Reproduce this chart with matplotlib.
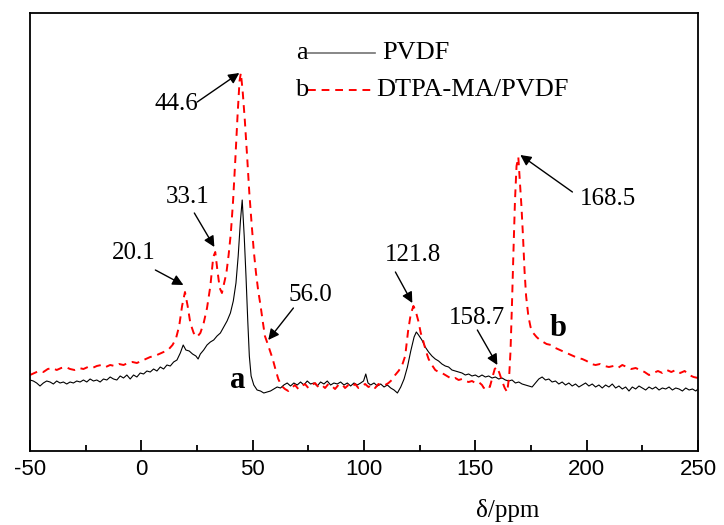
import matplotlib
matplotlib.use('Agg')
import matplotlib.pyplot as plt
from matplotlib.lines import Line2D

plt.rcParams['axes.unicode_minus'] = False

# PVDF (curve a)
a_ppm = [-50, -48.5, -47, -45.5, -44, -42.5, -41, -39.5, -38, -36.5, -35, -33.5, -32, -30.5,
         -29, -27.5, -26, -24.5, -23, -21.5, -20, -18.5, -17, -15.5, -14, -12.5, -11, -9.5,
         -8, -6.5, -5, -3.5, -2, -0.5, 1, 2.5, 4, 5.5, 7, 8.5, 10, 11.5, 13, 14.5, 16, 17.5,
         18.8, 20, 21.5, 23, 24.5, 25.5, 26.5, 28, 29.5, 31, 32.5, 34, 35.5, 37, 38.5, 40,
         41.3, 42.5, 43.5, 44.5, 45.3, 46.2, 47.0, 47.8, 48.5, 49.3, 50.5, 52, 53.5, 55, 56.5,
         58, 59.5, 61, 62.5, 64, 65.5, 67, 68.5, 70, 71.5, 73, 74.5, 76, 77.5, 79, 80.5, 82,
         83.5, 85, 86.5, 88, 89.5, 91, 92.5, 94, 95.5, 97, 98.5, 99.8, 100.8, 101.8, 103,
         104.5, 106, 107.5, 109, 110.5, 112, 113.5, 115, 116.5, 118, 119.5, 121, 122.5, 123.5,
         124.5, 126, 127.5, 129, 130.5, 132, 133.5, 135, 136.5, 138, 139.5, 141, 142.5, 144,
         145.5, 147, 148.5, 150, 151.5, 153, 154.5, 156, 157.5, 159, 160.5, 162, 163.5, 165,
         166.5, 168, 169.5, 171, 172.5, 174, 175.5, 177, 178.5, 180, 181.5, 183, 184.5, 186,
         187.5, 189, 190.5, 192, 193.5, 195, 196.5, 198, 199.5, 201, 202.5, 204, 205.5, 207,
         208.5, 210, 211.5, 213, 214.5, 216, 217.5, 219, 220.5, 222, 223.5, 225, 226.5, 228,
         229.5, 231, 232.5, 234, 235.5, 237, 238.5, 240, 241.5, 243, 244.5, 246, 247.5, 249, 250]
a_int = [71, 70, 68, 65, 68, 70, 69, 67, 70, 68, 69, 67, 69, 68,
         70, 69, 71, 69, 72, 70, 71, 69, 72, 71, 74, 72, 71, 75,
         73, 76, 72, 76, 74, 78, 77, 80, 79, 82, 80, 84, 82, 86, 85, 89, 91, 98,
         106, 101, 100, 97, 95, 92, 97, 101, 106, 109, 111, 115, 118, 124, 130, 138,
         150, 168, 195, 230, 251, 215, 175, 130, 95, 75, 66, 61, 60, 58, 59,
         60, 62, 64, 63, 66, 68, 65, 68, 66, 69, 66, 70, 67, 68, 65, 69, 67,
         70, 66, 68, 67, 69, 66, 68, 65, 68, 66, 68, 70, 77, 68, 66,
         68, 65, 67, 64, 66, 63, 61, 58, 64, 72, 84, 100, 114, 119,
         116, 111, 104, 99, 95, 92, 90, 87, 85, 84, 81, 80, 79, 78,
         76, 77, 75, 76, 74, 76, 74, 75, 73, 74, 72, 73, 71, 70,
         71, 68, 69, 67, 66, 65, 64, 68, 72, 74, 71, 72, 69, 70,
         67, 69, 66, 68, 65, 67, 64, 66, 68, 65, 67, 64, 66, 63,
         66, 64, 67, 63, 65, 62, 64, 60, 64, 62, 65, 63, 61, 64,
         62, 64, 61, 63, 62, 64, 61, 63, 62, 60, 63, 61, 62, 60, 62]

# DTPA-MA/PVDF (curve b)
b_ppm = [-50, -48, -46, -44, -42, -40, -38, -36, -34, -32, -30, -28, -26, -24, -22, -20, -18,
         -16, -14, -12, -10, -8, -6, -4, -2, 0, 2, 4, 6, 8, 10, 12, 14, 15.5, 17, 18.3, 19.6,
         20.8, 22, 23.5, 25, 26.5, 28, 29.5, 31, 32.3, 33.2, 34.2, 35.2, 36.2, 37.2, 38.2,
         39.2, 40.2, 41.2, 42.2, 43.2, 44.1, 44.7, 45.5, 46.5, 47.5, 48.5, 49.5, 50.5, 51.5,
         52.5, 53.5, 54.5, 55.5, 56.6, 57.8, 59, 60.2, 61.5, 63, 64.5, 66, 67.5, 69, 70.5, 72,
         73.5, 75, 76.5, 78, 79.5, 81, 82.5, 84, 85.5, 87, 88.5, 90, 91.5, 93, 94.5, 96, 97.5,
         99, 100.5, 102, 103.5, 105, 106.5, 108, 109.5, 111, 112.5, 114, 115.5, 117, 118.5,
         119.8, 121, 122.2, 123.2, 124.4, 125.5, 126.6, 127.8, 129, 130.5, 132, 133.5, 135,
         136.5, 138, 139.5, 141, 142.5, 144, 145.5, 147, 148.5, 150, 151.5, 153, 153.8, 155,
         156.5, 157.5, 158.7, 159.7, 160.8, 162, 163.2, 164.3, 165.2, 165.8, 166.5, 167.1,
         167.8, 168.5, 169.3, 170.0, 170.7, 171.4, 172.1, 172.8, 173.8, 174.8, 176, 177.5, 179,
         180.5, 182, 184, 186, 188, 190, 192, 194, 196, 198, 200, 202, 204, 206, 208, 210, 212,
         214, 216, 218, 220, 222, 224, 226, 228, 230, 232, 234, 236, 238, 240, 242, 244, 246,
         248, 250]
b_int = [76, 78, 80, 79, 82, 83, 81, 83, 84, 82, 81, 83, 82, 84, 83, 85, 86,
         84, 86, 85, 87, 86, 88, 89, 88, 90, 92, 94, 95, 97, 99, 101, 106, 112, 125, 145, 159,
         145, 128, 118, 114, 118, 128, 143, 165, 194, 199, 180, 163, 158, 168, 178,
         196, 218, 250, 291, 335, 370, 378, 360, 330, 295, 258, 228, 200, 178,
         160, 146, 130, 115, 108, 100, 92, 82, 72, 65, 62, 60, 63, 66, 62, 65,
         67, 63, 66, 68, 64, 66, 63, 67, 65, 62, 66, 67, 63, 66, 64, 67, 63,
         65, 67, 64, 66, 63, 67, 65, 66, 68, 71, 76, 80, 85, 95,
         120, 137, 145, 140, 130, 118, 110, 100, 92, 86, 81, 79, 78,
         76, 74, 72, 73, 71, 72, 70, 69, 70, 68, 69, 66, 63, 66,
         64, 72, 82, 84, 78, 70, 63, 59, 75, 100, 150, 198,
         250, 285, 294, 270, 245, 215, 180, 155, 135, 124, 118, 114, 111,
         109, 107, 106, 103, 101, 99, 97, 95, 93, 92, 90, 87, 86, 87, 85, 84, 85,
         83, 86, 84, 82, 83, 81, 79, 76, 78, 80, 78, 81, 79, 81, 78, 80, 76,
         74, 73]

# peak labels: text, peak position, text position, arrow start
peak_labels = ['44.6', '33.1', '20.1', '56.0', '121.8', '158.7', '168.5']
peak_xy = [(44.0, 378), (32.8, 204), (18.9, 166), (57.0, 111), (121.7, 148), (159.9, 86), (170.2, 296)]
text_xy = [(15.7, 347), (20.7, 254), (-3.6, 198), (75.9, 156), (122.2, 196), (150.9, 133), (209.7, 252)]
tail_xy = [(25.1, 349), (23.8, 238), (6.3, 181), (68.3, 143), (114.1, 179), (150.9, 121), (193.6, 259)]

serif = 'Liberation Serif'

fig = plt.figure(figsize=(7.24, 5.25), dpi=100)
ax = fig.add_axes([30 / 724, 1 - 451 / 525, 668 / 724, 438 / 525])

ax.plot(a_ppm, a_int, color='black', lw=0.8)
ax.plot(b_ppm, b_int, color='red', lw=1.4, dashes=(4, 3))

for lab, pxy, txy, sxy in zip(peak_labels, peak_xy, text_xy, tail_xy):
    ax.annotate('', xy=pxy, xytext=sxy,
                arrowprops=dict(arrowstyle='-|>', color='black', lw=1.0,
                                mutation_scale=16, shrinkA=0, shrinkB=0))
    ax.text(txy[0], txy[1], lab, ha='center', va='center', fontsize=18, family=serif)

ax.text(43.1, 71, 'a', ha='center', va='center', fontsize=22, fontweight='bold', family=serif)
ax.text(187.3, 123, 'b', ha='center', va='center', fontsize=22, fontweight='bold', family=serif)

# hand-drawn style legend
ax.text(0.407, 0.909, 'a', transform=ax.transAxes, ha='center', va='center', fontsize=19, family=serif)
ax.add_line(Line2D([0.416, 0.516], [0.909, 0.909], transform=ax.transAxes, color='0.45', lw=1.2))
ax.text(0.528, 0.909, 'PVDF', transform=ax.transAxes, ha='left', va='center', fontsize=19, family=serif)
ax.text(0.407, 0.824, 'b', transform=ax.transAxes, ha='center', va='center', fontsize=19, family=serif)
ax.add_line(Line2D([0.416, 0.518], [0.824, 0.824], transform=ax.transAxes, color='red', lw=1.4, dashes=(4, 3)))
ax.text(0.519, 0.824, 'DTPA-MA/PVDF', transform=ax.transAxes, ha='left', va='center', fontsize=19, family=serif)

ax.set_xlim(-50, 250)
ax.set_ylim(0, 438)
ax.set_xticks(range(-50, 251, 50))
ax.set_xticks(range(-25, 250, 50), minor=True)
ax.set_yticks([])
ax.tick_params(axis='x', which='major', direction='in', length=8, width=1.3, pad=6,
               labelsize=16, labelfontfamily='Liberation Sans')
ax.tick_params(axis='x', which='minor', direction='in', length=4, width=1.3)
for s in ax.spines.values():
    s.set_linewidth(1.3)

ax.set_xlabel('δ/ppm', fontsize=18, family=serif, va='center')
ax.xaxis.set_label_coords((508 - 30) / 668, (451 - 510) / 438)

fig.savefig('out.png', dpi=100)
